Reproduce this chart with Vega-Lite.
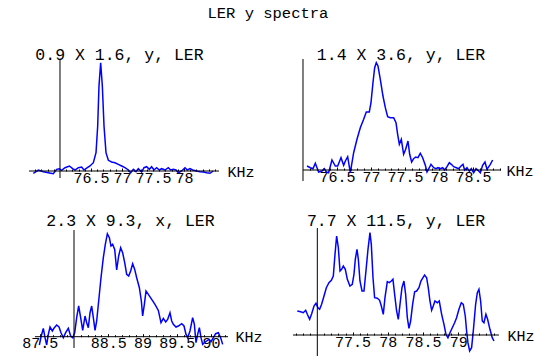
{
  "$schema": "https://vega.github.io/schema/vega-lite/v6.json",
  "background": "white",
  "padding": {"left": 21, "top": 5, "right": 5, "bottom": 5},
  "title": {"text": "LER y spectra", "font": "Courier New, Liberation Mono, monospace", "fontSize": 15.5, "fontWeight": "normal", "color": "black", "anchor": "middle", "frame": "bounds", "baseline": "top", "dx": -10, "offset": 26},
  "datasets": {
    "p1": [
      {"f": 75.570, "a": -0.023}, {"f": 75.651, "a": 0.010}, {"f": 75.731, "a": -0.007}, {"f": 75.812, "a": -0.017},
      {"f": 75.892, "a": -0.027}, {"f": 75.946, "a": 0.017}, {"f": 75.989, "a": 0.023}, {"f": 76.027, "a": 0.007},
      {"f": 76.081, "a": 0.033}, {"f": 76.151, "a": 0.050}, {"f": 76.204, "a": 0.023}, {"f": 76.242, "a": 0.010},
      {"f": 76.296, "a": 0.033}, {"f": 76.349, "a": 0.040}, {"f": 76.387, "a": 0.010}, {"f": 76.441, "a": 0.033},
      {"f": 76.484, "a": 0.050}, {"f": 76.538, "a": 0.083}, {"f": 76.581, "a": 0.183}, {"f": 76.608, "a": 0.450},
      {"f": 76.629, "a": 0.850}, {"f": 76.656, "a": 1.083}, {"f": 76.683, "a": 0.850}, {"f": 76.710, "a": 0.450},
      {"f": 76.742, "a": 0.183}, {"f": 76.780, "a": 0.107}, {"f": 76.833, "a": 0.090}, {"f": 76.887, "a": 0.083},
      {"f": 76.941, "a": 0.067}, {"f": 76.995, "a": 0.050}, {"f": 77.048, "a": 0.033}, {"f": 77.102, "a": 0.010},
      {"f": 77.140, "a": -0.017}, {"f": 77.183, "a": 0.017}, {"f": 77.226, "a": -0.007}, {"f": 77.263, "a": 0.023},
      {"f": 77.317, "a": -0.010}, {"f": 77.355, "a": 0.033}, {"f": 77.398, "a": 0.043}, {"f": 77.441, "a": 0.017},
      {"f": 77.478, "a": 0.043}, {"f": 77.516, "a": 0.010}, {"f": 77.559, "a": 0.033}, {"f": 77.602, "a": 0.010},
      {"f": 77.640, "a": 0.023}, {"f": 77.694, "a": 0.010}, {"f": 77.747, "a": 0.033}, {"f": 77.785, "a": 0.010},
      {"f": 77.828, "a": 0.017}, {"f": 77.871, "a": 0.010}, {"f": 77.909, "a": -0.017}, {"f": 77.962, "a": 0.000},
      {"f": 78.016, "a": 0.033}, {"f": 78.054, "a": 0.010}, {"f": 78.097, "a": 0.023}, {"f": 78.140, "a": 0.010},
      {"f": 78.204, "a": 0.000}, {"f": 78.258, "a": -0.007}, {"f": 78.312, "a": -0.010}, {"f": 78.366, "a": -0.017},
      {"f": 78.419, "a": -0.023}, {"f": 78.473, "a": 0.000}
    ],
    "p2": [
      {"f": 76.059, "a": 0.040}, {"f": 76.108, "a": 0.023}, {"f": 76.147, "a": 0.013}, {"f": 76.181, "a": 0.067},
      {"f": 76.230, "a": -0.020}, {"f": 76.279, "a": -0.010}, {"f": 76.314, "a": 0.013}, {"f": 76.343, "a": -0.020},
      {"f": 76.377, "a": -0.027}, {"f": 76.426, "a": 0.100}, {"f": 76.475, "a": 0.040}, {"f": 76.510, "a": 0.040},
      {"f": 76.559, "a": 0.123}, {"f": 76.598, "a": 0.047}, {"f": 76.623, "a": 0.090}, {"f": 76.657, "a": 0.133},
      {"f": 76.696, "a": -0.027}, {"f": 76.745, "a": 0.173}, {"f": 76.794, "a": 0.307}, {"f": 76.843, "a": 0.423},
      {"f": 76.892, "a": 0.507}, {"f": 76.931, "a": 0.580}, {"f": 76.975, "a": 0.580}, {"f": 77.000, "a": 0.673},
      {"f": 77.029, "a": 0.873}, {"f": 77.054, "a": 1.023}, {"f": 77.078, "a": 1.073}, {"f": 77.103, "a": 1.040},
      {"f": 77.137, "a": 0.907}, {"f": 77.176, "a": 0.740}, {"f": 77.211, "a": 0.623}, {"f": 77.245, "a": 0.533},
      {"f": 77.284, "a": 0.523}, {"f": 77.333, "a": 0.523}, {"f": 77.368, "a": 0.473}, {"f": 77.392, "a": 0.357},
      {"f": 77.417, "a": 0.257}, {"f": 77.446, "a": 0.307}, {"f": 77.480, "a": 0.157}, {"f": 77.510, "a": 0.207},
      {"f": 77.544, "a": 0.290}, {"f": 77.569, "a": 0.157}, {"f": 77.598, "a": 0.080}, {"f": 77.627, "a": 0.113},
      {"f": 77.657, "a": 0.130}, {"f": 77.691, "a": 0.123}, {"f": 77.725, "a": 0.167}, {"f": 77.760, "a": 0.123},
      {"f": 77.799, "a": 0.047}, {"f": 77.824, "a": -0.020}, {"f": 77.858, "a": 0.023}, {"f": 77.882, "a": 0.057},
      {"f": 77.922, "a": 0.023}, {"f": 77.956, "a": 0.013}, {"f": 77.985, "a": 0.023}, {"f": 78.020, "a": 0.013},
      {"f": 78.054, "a": 0.023}, {"f": 78.083, "a": 0.000}, {"f": 78.118, "a": 0.033}, {"f": 78.152, "a": 0.073},
      {"f": 78.181, "a": 0.057}, {"f": 78.216, "a": 0.033}, {"f": 78.255, "a": 0.023}, {"f": 78.289, "a": 0.013},
      {"f": 78.324, "a": 0.040}, {"f": 78.353, "a": 0.057}, {"f": 78.377, "a": 0.000}, {"f": 78.412, "a": 0.023},
      {"f": 78.446, "a": -0.013}, {"f": 78.475, "a": 0.013}, {"f": 78.510, "a": -0.027}, {"f": 78.544, "a": 0.013},
      {"f": 78.574, "a": -0.003}, {"f": 78.608, "a": -0.027}, {"f": 78.642, "a": 0.047}, {"f": 78.676, "a": 0.080},
      {"f": 78.706, "a": 0.007}, {"f": 78.755, "a": 0.057}, {"f": 78.789, "a": 0.100}
    ],
    "p3": [
      {"f": 87.494, "a": -0.083}, {"f": 87.518, "a": -0.003}, {"f": 87.552, "a": 0.083}, {"f": 87.577, "a": -0.010},
      {"f": 87.601, "a": -0.083}, {"f": 87.625, "a": 0.023}, {"f": 87.650, "a": 0.097}, {"f": 87.684, "a": 0.057},
      {"f": 87.713, "a": 0.090}, {"f": 87.747, "a": 0.117}, {"f": 87.781, "a": 0.097}, {"f": 87.810, "a": 0.040},
      {"f": 87.844, "a": -0.010}, {"f": 87.878, "a": 0.040}, {"f": 87.917, "a": 0.083}, {"f": 87.951, "a": 0.007},
      {"f": 87.981, "a": -0.010}, {"f": 88.010, "a": 0.040}, {"f": 88.039, "a": 0.190}, {"f": 88.068, "a": 0.307},
      {"f": 88.097, "a": 0.190}, {"f": 88.127, "a": 0.063}, {"f": 88.161, "a": 0.207}, {"f": 88.185, "a": 0.140},
      {"f": 88.209, "a": 0.090}, {"f": 88.234, "a": 0.240}, {"f": 88.258, "a": 0.307}, {"f": 88.282, "a": 0.190},
      {"f": 88.307, "a": 0.063}, {"f": 88.331, "a": 0.157}, {"f": 88.365, "a": 0.390}, {"f": 88.394, "a": 0.590},
      {"f": 88.428, "a": 0.790}, {"f": 88.457, "a": 0.923}, {"f": 88.487, "a": 1.030}, {"f": 88.516, "a": 0.990},
      {"f": 88.540, "a": 0.907}, {"f": 88.564, "a": 0.923}, {"f": 88.594, "a": 0.873}, {"f": 88.623, "a": 0.667},
      {"f": 88.652, "a": 0.807}, {"f": 88.681, "a": 0.890}, {"f": 88.710, "a": 0.840}, {"f": 88.740, "a": 0.740},
      {"f": 88.769, "a": 0.623}, {"f": 88.798, "a": 0.607}, {"f": 88.827, "a": 0.657}, {"f": 88.856, "a": 0.730},
      {"f": 88.886, "a": 0.673}, {"f": 88.915, "a": 0.590}, {"f": 88.954, "a": 0.490}, {"f": 88.983, "a": 0.357},
      {"f": 89.002, "a": 0.207}, {"f": 89.027, "a": 0.323}, {"f": 89.051, "a": 0.457}, {"f": 89.085, "a": 0.423},
      {"f": 89.134, "a": 0.373}, {"f": 89.182, "a": 0.323}, {"f": 89.231, "a": 0.263}, {"f": 89.270, "a": 0.140},
      {"f": 89.304, "a": 0.183}, {"f": 89.338, "a": 0.147}, {"f": 89.367, "a": 0.173}, {"f": 89.401, "a": 0.240},
      {"f": 89.426, "a": 0.157}, {"f": 89.450, "a": 0.123}, {"f": 89.489, "a": 0.097}, {"f": 89.523, "a": 0.107},
      {"f": 89.572, "a": 0.130}, {"f": 89.606, "a": 0.107}, {"f": 89.635, "a": 0.023}, {"f": 89.659, "a": -0.010},
      {"f": 89.693, "a": 0.057}, {"f": 89.732, "a": 0.190}, {"f": 89.757, "a": 0.123}, {"f": 89.781, "a": -0.060},
      {"f": 89.805, "a": 0.023}, {"f": 89.830, "a": 0.090}, {"f": 89.854, "a": -0.010}, {"f": 89.878, "a": -0.077},
      {"f": 89.903, "a": -0.060}, {"f": 89.937, "a": -0.043}, {"f": 89.971, "a": -0.027}, {"f": 90.000, "a": -0.050},
      {"f": 90.034, "a": -0.010}, {"f": 90.068, "a": 0.030}, {"f": 90.107, "a": 0.040}, {"f": 90.141, "a": -0.010},
      {"f": 90.170, "a": -0.077}
    ],
    "p4": [
      {"f": 76.716, "a": 0.240}, {"f": 76.764, "a": 0.233}, {"f": 76.801, "a": 0.223}, {"f": 76.835, "a": 0.247},
      {"f": 76.858, "a": 0.207}, {"f": 76.891, "a": 0.157}, {"f": 76.920, "a": 0.213}, {"f": 76.953, "a": 0.290},
      {"f": 76.981, "a": 0.317}, {"f": 77.009, "a": 0.273}, {"f": 77.033, "a": 0.257}, {"f": 77.061, "a": 0.307},
      {"f": 77.095, "a": 0.390}, {"f": 77.128, "a": 0.473}, {"f": 77.165, "a": 0.523}, {"f": 77.199, "a": 0.547},
      {"f": 77.227, "a": 0.590}, {"f": 77.251, "a": 0.807}, {"f": 77.274, "a": 0.990}, {"f": 77.298, "a": 0.873},
      {"f": 77.322, "a": 0.640}, {"f": 77.345, "a": 0.657}, {"f": 77.369, "a": 0.690}, {"f": 77.397, "a": 0.657},
      {"f": 77.426, "a": 0.557}, {"f": 77.463, "a": 0.490}, {"f": 77.496, "a": 0.507}, {"f": 77.520, "a": 0.607},
      {"f": 77.539, "a": 0.757}, {"f": 77.563, "a": 0.857}, {"f": 77.582, "a": 0.757}, {"f": 77.605, "a": 0.540},
      {"f": 77.634, "a": 0.440}, {"f": 77.662, "a": 0.440}, {"f": 77.690, "a": 0.640}, {"f": 77.719, "a": 0.857},
      {"f": 77.747, "a": 1.023}, {"f": 77.766, "a": 0.907}, {"f": 77.790, "a": 0.573}, {"f": 77.813, "a": 0.373},
      {"f": 77.851, "a": 0.367}, {"f": 77.884, "a": 0.347}, {"f": 77.908, "a": 0.290}, {"f": 77.936, "a": 0.207},
      {"f": 77.960, "a": 0.373}, {"f": 77.993, "a": 0.533}, {"f": 78.021, "a": 0.523}, {"f": 78.050, "a": 0.540},
      {"f": 78.073, "a": 0.557}, {"f": 78.097, "a": 0.407}, {"f": 78.125, "a": 0.240}, {"f": 78.149, "a": 0.157},
      {"f": 78.173, "a": 0.307}, {"f": 78.201, "a": 0.473}, {"f": 78.229, "a": 0.540}, {"f": 78.253, "a": 0.407},
      {"f": 78.277, "a": 0.173}, {"f": 78.300, "a": 0.067}, {"f": 78.324, "a": 0.140}, {"f": 78.352, "a": 0.307},
      {"f": 78.381, "a": 0.433}, {"f": 78.409, "a": 0.440}, {"f": 78.442, "a": 0.473}, {"f": 78.470, "a": 0.540},
      {"f": 78.499, "a": 0.573}, {"f": 78.522, "a": 0.600}, {"f": 78.551, "a": 0.573}, {"f": 78.574, "a": 0.473},
      {"f": 78.598, "a": 0.340}, {"f": 78.622, "a": 0.247}, {"f": 78.645, "a": 0.290}, {"f": 78.669, "a": 0.340},
      {"f": 78.702, "a": 0.323}, {"f": 78.730, "a": 0.340}, {"f": 78.764, "a": 0.207}, {"f": 78.797, "a": 0.107},
      {"f": 78.825, "a": 0.007}, {"f": 78.853, "a": -0.027}, {"f": 78.882, "a": 0.023}, {"f": 78.915, "a": 0.073},
      {"f": 78.948, "a": 0.123}, {"f": 78.976, "a": 0.173}, {"f": 79.009, "a": 0.257}, {"f": 79.043, "a": 0.323},
      {"f": 79.071, "a": 0.307}, {"f": 79.099, "a": 0.190}, {"f": 79.118, "a": 0.040}, {"f": 79.137, "a": -0.077},
      {"f": 79.161, "a": -0.160}, {"f": 79.189, "a": -0.127}, {"f": 79.213, "a": 0.040}, {"f": 79.246, "a": 0.307},
      {"f": 79.270, "a": 0.423}, {"f": 79.293, "a": 0.457}, {"f": 79.317, "a": 0.340}, {"f": 79.340, "a": 0.140},
      {"f": 79.364, "a": 0.123}, {"f": 79.392, "a": 0.207}, {"f": 79.416, "a": 0.157}, {"f": 79.449, "a": 0.057},
      {"f": 79.482, "a": -0.027}, {"f": 79.506, "a": -0.060}
    ]
  },
  "bounds": "flush",
  "columns": 2,
  "spacing": {"row": 47, "column": 65},
  "concat": [
    {
      "width": 199, "height": 122,
      "title": {"text": "0.9 X 1.6, y, LER", "dx": -9, "offset": -5},
      "resolve": {"axis": {"x": "independent"}},
      "layer": [
        {
          "data": {"name": "p1"},
          "mark": {"type": "line", "color": "#0000ff", "strokeWidth": 1.5},
          "encoding": {
            "x": {"field": "f", "type": "quantitative", "scale": {"domain": [75.5, 78.71], "nice": false, "zero": false},
              "axis": {"offset": -10, "titleX": 198, "title": "KHz", "values": [76.5, 77, 77.5, 78], "format": ".6~g"}},
            "y": {"field": "a", "type": "quantitative", "scale": {"domain": [-0.10, 1.12], "nice": false, "zero": false}, "axis": null}
          }
        },
        {"data": {"values": [{}]}, "mark": {"type": "rule", "color": "black", "strokeWidth": 1},
          "encoding": {
            "x": {"datum": 75.5, "type": "quantitative",
              "axis": {"orient": "top", "offset": -112, "labels": false, "title": null, "tickSize": 2,
                "values": [75.6, 75.7, 75.8, 75.9, 76.1, 76.2, 76.3, 76.4, 76.6, 76.7, 76.8, 76.9, 77.1, 77.2, 77.3, 77.4, 77.6, 77.7, 77.8, 77.9, 78.1, 78.2, 78.3, 78.4, 78.5]}},
            "x2": {"datum": 78.565}, "y": {"datum": 0, "type": "quantitative", "axis": null}}},
        {"data": {"values": [{}]}, "mark": {"type": "rule", "color": "black", "strokeWidth": 1},
          "encoding": {"x": {"datum": 76, "type": "quantitative", "axis": null}, "y": {"datum": -0.07, "type": "quantitative", "axis": null}, "y2": {"datum": 1.12}}}
      ]
    },
    {
      "width": 208, "height": 122,
      "title": {"text": "1.4 X 3.6, y, LER", "dx": 4, "offset": -5},
      "resolve": {"axis": {"x": "independent"}},
      "layer": [
        {
          "data": {"name": "p2"},
          "mark": {"type": "line", "color": "#0000ff", "strokeWidth": 1.5},
          "encoding": {
            "x": {"field": "f", "type": "quantitative", "scale": {"domain": [75.853, 78.912], "nice": false, "zero": false},
              "axis": {"offset": -11, "titleX": 213, "title": "KHz", "values": [76.5, 77, 77.5, 78, 78.5], "format": ".6~g"}},
            "y": {"field": "a", "type": "quantitative", "scale": {"domain": [-0.11, 1.11], "nice": false, "zero": false}, "axis": null}
          }
        },
        {"data": {"values": [{}]}, "mark": {"type": "rule", "color": "black", "strokeWidth": 1},
          "encoding": {
            "x": {"datum": 76, "type": "quantitative",
              "axis": {"orient": "top", "offset": -111, "labels": false, "title": null, "tickSize": 2,
                "values": [76.1, 76.2, 76.3, 76.4, 76.6, 76.7, 76.8, 76.9, 77.1, 77.2, 77.3, 77.4, 77.6, 77.7, 77.8, 77.9, 78.1, 78.2, 78.3, 78.4, 78.6, 78.7, 78.8, 78.9]}},
            "x2": {"datum": 78.912}, "y": {"datum": 0, "type": "quantitative", "axis": null}}},
        {"data": {"values": [{}]}, "mark": {"type": "rule", "color": "black", "strokeWidth": 1},
          "encoding": {"x": {"datum": 76, "type": "quantitative", "axis": null}, "y": {"datum": -0.11, "type": "quantitative", "axis": null}, "y2": {"datum": 1.11}}}
      ]
    },
    {
      "width": 199, "height": 128,
      "title": {"text": "2.3 X 9.3, x, LER", "dx": 2, "offset": -1.5},
      "resolve": {"axis": {"x": "independent"}},
      "layer": [
        {
          "data": {"name": "p3"},
          "mark": {"type": "line", "color": "#0000ff", "strokeWidth": 1.5},
          "encoding": {
            "x": {"field": "f", "type": "quantitative", "scale": {"domain": [87.343, 90.248], "nice": false, "zero": false},
              "axis": {"offset": -19.3, "titleX": 206, "title": "KHz", "values": [87.5, 88.5, 89, 89.5, 90], "format": ".6~g"}},
            "y": {"field": "a", "type": "quantitative", "scale": {"domain": [-0.193, 1.087], "nice": false, "zero": false}, "axis": null}
          }
        },
        {"data": {"values": [{}]}, "mark": {"type": "rule", "color": "black", "strokeWidth": 1},
          "encoding": {
            "x": {"datum": 87.43, "type": "quantitative",
              "axis": {"orient": "top", "offset": -108.7, "labels": false, "title": null, "tickSize": 2,
                "values": [87.6, 87.7, 87.8, 87.9, 88.1, 88.2, 88.3, 88.4, 88.6, 88.7, 88.8, 88.9, 89.1, 89.2, 89.3, 89.4, 89.6, 89.7, 89.8, 89.9, 90.1, 90.2]}},
            "x2": {"datum": 90.248}, "y": {"datum": 0, "type": "quantitative", "axis": null}}},
        {"data": {"values": [{}]}, "mark": {"type": "rule", "color": "black", "strokeWidth": 1},
          "encoding": {"x": {"datum": 88, "type": "quantitative", "axis": null}, "y": {"datum": -0.113, "type": "quantitative", "axis": null}, "y2": {"datum": 1.067}}}
      ]
    },
    {
      "width": 208, "height": 128,
      "title": {"text": "7.7 X 11.5, y, LER", "dx": -1, "offset": -1.5},
      "resolve": {"axis": {"x": "independent"}},
      "layer": [
        {
          "data": {"name": "p4"},
          "mark": {"type": "line", "color": "#0000ff", "strokeWidth": 1.5},
          "encoding": {
            "x": {"field": "f", "type": "quantitative", "scale": {"domain": [76.655, 79.606], "nice": false, "zero": false},
              "axis": {"offset": -21, "titleX": 214, "title": "KHz", "values": [77.5, 78, 78.5, 79], "format": ".6~g"}},
            "y": {"field": "a", "type": "quantitative", "scale": {"domain": [-0.21, 1.07], "nice": false, "zero": false}, "axis": null}
          }
        },
        {"data": {"values": [{}]}, "mark": {"type": "rule", "color": "black", "strokeWidth": 1},
          "encoding": {
            "x": {"datum": 76.655, "type": "quantitative",
              "axis": {"orient": "top", "offset": -107, "labels": false, "title": null, "tickSize": 2,
                "values": [76.7, 76.8, 76.9, 77.1, 77.2, 77.3, 77.4, 77.6, 77.7, 77.8, 77.9, 78.1, 78.2, 78.3, 78.4, 78.6, 78.7, 78.8, 78.9, 79.1, 79.2, 79.3, 79.4, 79.5]}},
            "x2": {"datum": 79.577}, "y": {"datum": 0, "type": "quantitative", "axis": null}}},
        {"data": {"values": [{}]}, "mark": {"type": "rule", "color": "black", "strokeWidth": 1},
          "encoding": {"x": {"datum": 77, "type": "quantitative", "axis": null}, "y": {"datum": -0.21, "type": "quantitative", "axis": null}, "y2": {"datum": 1.07}}}
      ]
    }
  ],
  "config": {
    "view": {"stroke": null},
    "font": "Courier New, Liberation Mono, monospace",
    "title": {"font": "Courier New, Liberation Mono, monospace", "fontSize": 16.5, "fontWeight": "normal", "color": "black", "anchor": "middle", "frame": "group", "baseline": "alphabetic", "offset": 0},
    "axis": {
      "domain": false, "grid": false,
      "ticks": true, "tickColor": "black", "tickWidth": 1, "tickSize": -3,
      "labelFont": "Courier New, Liberation Mono, monospace", "labelFontSize": 15, "labelColor": "black",
      "labelBaseline": "alphabetic", "labelPadding": 14, "labelOverlap": false, "labelFlush": false, "labelBound": false,
      "titleFont": "Courier New, Liberation Mono, monospace", "titleFontSize": 15, "titleFontWeight": "normal", "titleColor": "black",
      "titleAlign": "left", "titleBaseline": "middle", "titleAngle": 0, "titleY": 0, "titlePadding": 0
    }
  }
}
